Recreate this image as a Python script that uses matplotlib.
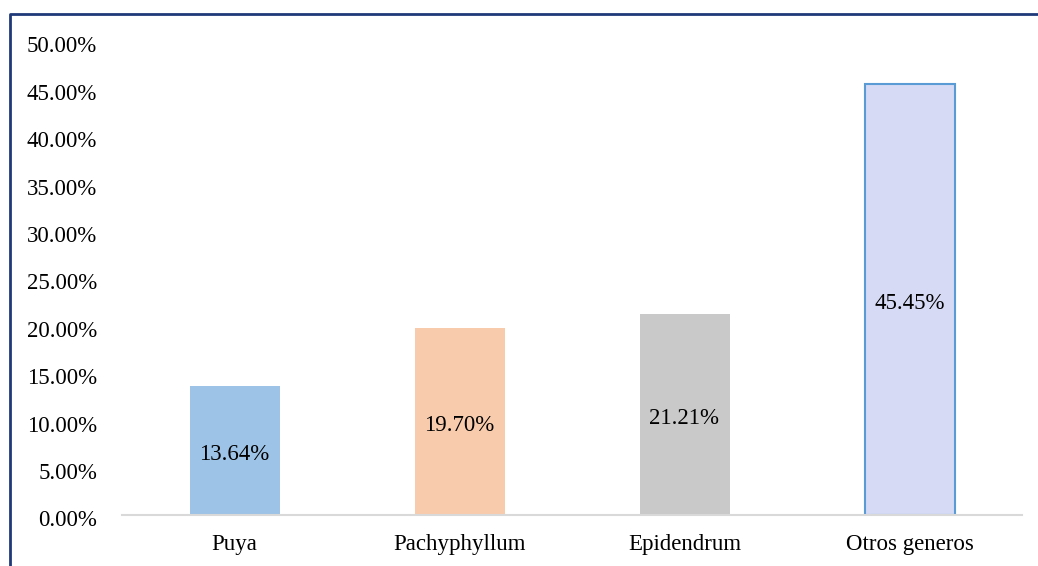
import numpy as np
import matplotlib.pyplot as plt
import matplotlib.transforms as mtransforms
from matplotlib.lines import Line2D
from matplotlib.ticker import PercentFormatter

categories = ["Puya", "Pachyphyllum", "Epidendrum", "Otros generos"]
values = [13.64, 19.70, 21.21, 45.45]
labels = ["13.64%", "19.70%", "21.21%", "45.45%"]
colors = ["#9DC3E6", "#F8CBAD", "#C9C9C9", "#D6DAF4"]
edges = ["none", "none", "none", "#5B9BD5"]

plt.rcParams["font.family"] = ["Liberation Serif", "DejaVu Serif"]
fs = 16.5

# --------------------------------------------------------------------------- #
fig = plt.figure(figsize=(10.38, 5.66), dpi=100)
ax = fig.add_axes([122/1038, 51/566, 900/1038, 474/566])

x = np.arange(len(categories))
bars = ax.bar(x, values, width=0.4, color=colors, edgecolor=edges, linewidth=1.5)

for b, lab in zip(bars, labels):
    ax.annotate(lab, (b.get_x() + b.get_width()/2, b.get_height()/2),
                xytext=(0, -3), textcoords="offset points",
                ha="center", va="center", fontsize=fs, color="#000000")

ax.set_xlim(-0.5, 3.5)
ax.set_ylim(0, 50)
ax.set_yticks(np.arange(0, 50.1, 5))
ax.yaxis.set_major_formatter(PercentFormatter(decimals=2))
ax.set_xticks(x)
ax.set_xticklabels(categories)
ax.tick_params(axis="both", length=0, labelsize=fs, colors="#000000")
ax.tick_params(axis="y", pad=18)
ax.tick_params(axis="x", pad=14)

# Excel-style: y labels sit a touch below their gridline value
shift = mtransforms.ScaledTranslation(0, -2.5/72, fig.dpi_scale_trans)
for t in ax.get_yticklabels():
    t.set_transform(t.get_transform() + shift)

for s in ["top", "right", "left"]:
    ax.spines[s].set_visible(False)
ax.spines["bottom"].set_color("#D9D9D9")
ax.spines["bottom"].set_linewidth(1.5)

# outer frame (only top and left visible)
fig.add_artist(Line2D([9.5/1038, 9.5/1038, 1.0], [0, 1 - 13.5/566, 1 - 13.5/566],
                      transform=fig.transFigure, color="#1F3A78", linewidth=2))

plt.savefig("out.png", dpi=100)
